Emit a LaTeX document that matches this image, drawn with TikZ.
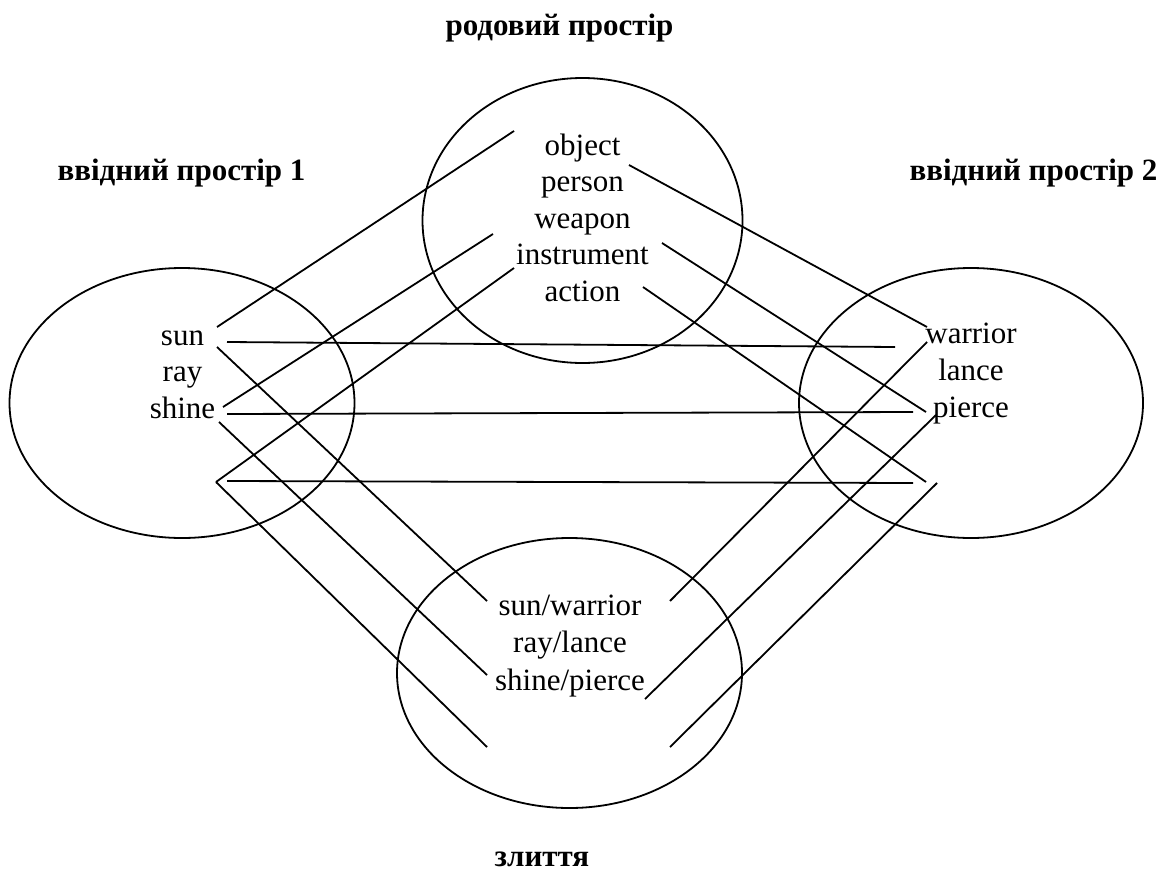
\documentclass[tikz,border=0pt]{standalone}
\usepackage{fontspec}
\setmainfont{Liberation Serif}
\usetikzlibrary{shapes.geometric}
\begin{document}
\begin{tikzpicture}[x=1pt,y=-1pt,
  every node/.style={inner sep=0pt},
  word/.style={anchor=base,font=\fontsize{31}{36}\selectfont},
  head/.style={anchor=base,font=\fontsize{31}{36}\selectfont\bfseries},
  space/.style={draw,ellipse,line width=1.8pt,inner sep=0pt},
  link/.style={line width=1.8pt}]
\useasboundingbox (0,0) rectangle (1158,872);
% spaces
\node[space,minimum width=320pt,minimum height=285pt] (gen) at (582.5,220.5) {};
\node[space,minimum width=345pt,minimum height=270pt] (inA) at (182,403) {};
\node[space,minimum width=344pt,minimum height=270pt] (inB) at (971,403) {};
\node[space,minimum width=345pt,minimum height=270pt] (bl) at (569.5,673) {};
% headings
\node[head] (hgen) at (559.5,36) {родовий простір};
\node[head] (hA) at (181.5,180) {ввідний простір 1};
\node[head] (hB) at (1033.5,180) {ввідний простір 2};
\node[head] (hbl) at (542,866) {злиття};
% generic space
\node[word] (object) at (582.5,155) {object};
\node[word] (person) at (582.5,191.5) {person};
\node[word] (weapon) at (582.5,228) {weapon};
\node[word] (instrument) at (582.5,264.5) {instrument};
\node[word] (action) at (582.5,301) {action};
% input 1
\node[word] (sun) at (182.5,345) {sun};
\node[word] (ray) at (182.5,381.5) {ray};
\node[word] (shine) at (182.5,418) {shine};
% input 2
\node[word] (warrior) at (971,343) {warrior};
\node[word] (lance) at (971,380) {lance};
\node[word] (pierce) at (971,417) {pierce};
% blend
\node[word] (sw) at (570,615) {sun/warrior};
\node[word] (rl) at (570,652) {ray/lance};
\node[word] (sp) at (570,690) {shine/pierce};
% ports
\coordinate (sunG) at (217,327);
\coordinate (sunI) at (227,342);
\coordinate (sunB) at (217,347);
\coordinate (shineG) at (223,407);
\coordinate (shineI) at (227,414);
\coordinate (shineB) at (219,422);
\coordinate (blankA) at (216,482);
\coordinate (blankAI) at (227,481);
\coordinate (objA) at (514,131);
\coordinate (perA) at (493,234);
\coordinate (insA) at (514,268);
\coordinate (objB) at (629,165);
\coordinate (weaB) at (662,243);
\coordinate (actB) at (643,287);
\coordinate (warA) at (895,347);
\coordinate (warG) at (927,327);
\coordinate (warBl) at (927,342);
\coordinate (pieA) at (913,412);
\coordinate (pieG) at (926,412);
\coordinate (pieBl) at (936,415);
\coordinate (blankBA) at (913,483);
\coordinate (blankBG) at (926,482);
\coordinate (blankBBl) at (937,483);
\coordinate (swA) at (487,601);
\coordinate (spA) at (487,675);
\coordinate (blankBlA) at (487,747);
\coordinate (swB) at (670,601);
\coordinate (spB) at (645,699);
\coordinate (blankBlB) at (670,747);
% connectors
\draw[link] (sunG) -- (objA);
\draw[link] (sunI) -- (warA);
\draw[link] (sunB) -- (swA);
\draw[link] (shineG) -- (perA);
\draw[link] (shineI) -- (pieA);
\draw[link] (shineB) -- (spA);
\draw[link] (blankA) -- (insA);
\draw[link] (blankAI) -- (blankBA);
\draw[link] (blankA) -- (blankBlA);
\draw[link] (objB) -- (warG);
\draw[link] (weaB) -- (pieG);
\draw[link] (actB) -- (blankBG);
\draw[link] (warBl) -- (swB);
\draw[link] (pieBl) -- (spB);
\draw[link] (blankBBl) -- (blankBlB);
\end{tikzpicture}
\end{document}
